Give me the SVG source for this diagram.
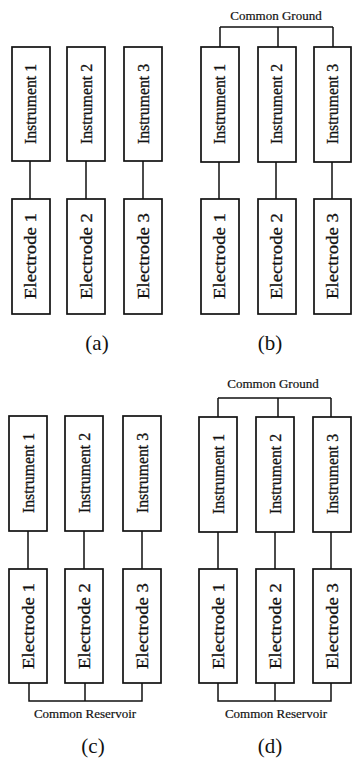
<svg xmlns="http://www.w3.org/2000/svg" width="352" height="767" viewBox="0 0 352 767">
<style>
.box{fill:#fff;stroke:#111;stroke-width:1.7}
.ln{fill:none;stroke:#111;stroke-width:1.5}
.vt{font-family:"Liberation Serif","Times New Roman",serif;font-size:17px;fill:#111;stroke:#111;stroke-width:0.3;text-anchor:middle;dominant-baseline:central}
.ht{font-family:"Liberation Serif","Times New Roman",serif;font-size:13px;fill:#111;stroke:#111;stroke-width:0.2;text-anchor:middle}
.cap{font-family:"Liberation Serif","Times New Roman",serif;font-size:21px;fill:#111;text-anchor:middle}
</style>
<rect width="352" height="767" fill="#fff"/>
<g id="connectors">
<path class="ln" d="M30,161V199M86,161V199M143,161V199"/>
<path class="ln" d="M220,27H333M220,27V47M278,27V47M333,27V47"/>
<path class="ln" d="M219,162V199M276,162V199M332,162V199"/>
<path class="ln" d="M28,531V569M84,531V569M142,531V569"/>
<path class="ln" d="M29,683V701H142V683M85,683V701"/>
<path class="ln" d="M218,398H331M218,398V417M278,398V417M331,398V417"/>
<path class="ln" d="M218,532V569M275,532V569M331,532V569"/>
<path class="ln" d="M218,683V701H331V683M275,683V701"/>
</g>
<g id="a-inst1"><rect class="box" x="12" y="47" width="38" height="114"/><text class="vt" transform="translate(30,104) rotate(-90)" textLength="80" lengthAdjust="spacingAndGlyphs">Instrument 1</text></g>
<g id="a-inst2"><rect class="box" x="67" y="47" width="38" height="114"/><text class="vt" transform="translate(86,104) rotate(-90)" textLength="80" lengthAdjust="spacingAndGlyphs">Instrument 2</text></g>
<g id="a-inst3"><rect class="box" x="124" y="47" width="38" height="114"/><text class="vt" transform="translate(143,104) rotate(-90)" textLength="80" lengthAdjust="spacingAndGlyphs">Instrument 3</text></g>
<g id="a-elec1"><rect class="box" x="12" y="199" width="38" height="115"/><text class="vt" transform="translate(30,256) rotate(-90)" textLength="86" lengthAdjust="spacingAndGlyphs">Electrode 1</text></g>
<g id="a-elec2"><rect class="box" x="67" y="199" width="38" height="115"/><text class="vt" transform="translate(86,256) rotate(-90)" textLength="86" lengthAdjust="spacingAndGlyphs">Electrode 2</text></g>
<g id="a-elec3"><rect class="box" x="124" y="199" width="38" height="115"/><text class="vt" transform="translate(143,256) rotate(-90)" textLength="86" lengthAdjust="spacingAndGlyphs">Electrode 3</text></g>
<text id="label-a" class="cap" x="97" y="350">(a)</text>
<text id="b-ground" class="ht" x="276" y="20">Common Ground</text>
<g id="b-inst1"><rect class="box" x="201" y="47" width="38" height="115"/><text class="vt" transform="translate(219,104) rotate(-90)" textLength="80" lengthAdjust="spacingAndGlyphs">Instrument 1</text></g>
<g id="b-inst2"><rect class="box" x="258" y="47" width="38" height="115"/><text class="vt" transform="translate(276,104) rotate(-90)" textLength="80" lengthAdjust="spacingAndGlyphs">Instrument 2</text></g>
<g id="b-inst3"><rect class="box" x="314" y="47" width="37" height="115"/><text class="vt" transform="translate(332,104) rotate(-90)" textLength="80" lengthAdjust="spacingAndGlyphs">Instrument 3</text></g>
<g id="b-elec1"><rect class="box" x="201" y="199" width="38" height="115"/><text class="vt" transform="translate(219,256) rotate(-90)" textLength="86" lengthAdjust="spacingAndGlyphs">Electrode 1</text></g>
<g id="b-elec2"><rect class="box" x="258" y="199" width="38" height="115"/><text class="vt" transform="translate(276,256) rotate(-90)" textLength="86" lengthAdjust="spacingAndGlyphs">Electrode 2</text></g>
<g id="b-elec3"><rect class="box" x="314" y="199" width="37" height="115"/><text class="vt" transform="translate(332,256) rotate(-90)" textLength="86" lengthAdjust="spacingAndGlyphs">Electrode 3</text></g>
<text id="label-b" class="cap" x="270" y="350">(b)</text>
<g id="c-inst1"><rect class="box" x="9" y="416" width="38" height="115"/><text class="vt" transform="translate(28,473) rotate(-90)" textLength="80" lengthAdjust="spacingAndGlyphs">Instrument 1</text></g>
<g id="c-inst2"><rect class="box" x="65" y="416" width="38" height="115"/><text class="vt" transform="translate(84,473) rotate(-90)" textLength="80" lengthAdjust="spacingAndGlyphs">Instrument 2</text></g>
<g id="c-inst3"><rect class="box" x="123" y="416" width="38" height="115"/><text class="vt" transform="translate(142,473) rotate(-90)" textLength="80" lengthAdjust="spacingAndGlyphs">Instrument 3</text></g>
<g id="c-elec1"><rect class="box" x="9" y="569" width="38" height="114"/><text class="vt" transform="translate(28,626) rotate(-90)" textLength="86" lengthAdjust="spacingAndGlyphs">Electrode 1</text></g>
<g id="c-elec2"><rect class="box" x="65" y="569" width="38" height="114"/><text class="vt" transform="translate(84,626) rotate(-90)" textLength="86" lengthAdjust="spacingAndGlyphs">Electrode 2</text></g>
<g id="c-elec3"><rect class="box" x="123" y="569" width="38" height="114"/><text class="vt" transform="translate(142,626) rotate(-90)" textLength="86" lengthAdjust="spacingAndGlyphs">Electrode 3</text></g>
<text id="c-reservoir" class="ht" x="85" y="718">Common Reservoir</text>
<text id="label-c" class="cap" x="93" y="753">(c)</text>
<text id="d-ground" class="ht" x="273" y="388">Common Ground</text>
<g id="d-inst1"><rect class="box" x="199" y="417" width="38" height="115"/><text class="vt" transform="translate(218,474) rotate(-90)" textLength="80" lengthAdjust="spacingAndGlyphs">Instrument 1</text></g>
<g id="d-inst2"><rect class="box" x="256" y="417" width="38" height="115"/><text class="vt" transform="translate(275,474) rotate(-90)" textLength="80" lengthAdjust="spacingAndGlyphs">Instrument 2</text></g>
<g id="d-inst3"><rect class="box" x="313" y="417" width="38" height="115"/><text class="vt" transform="translate(332,474) rotate(-90)" textLength="80" lengthAdjust="spacingAndGlyphs">Instrument 3</text></g>
<g id="d-elec1"><rect class="box" x="199" y="569" width="38" height="114"/><text class="vt" transform="translate(218,626) rotate(-90)" textLength="86" lengthAdjust="spacingAndGlyphs">Electrode 1</text></g>
<g id="d-elec2"><rect class="box" x="256" y="569" width="38" height="114"/><text class="vt" transform="translate(275,626) rotate(-90)" textLength="86" lengthAdjust="spacingAndGlyphs">Electrode 2</text></g>
<g id="d-elec3"><rect class="box" x="313" y="569" width="38" height="114"/><text class="vt" transform="translate(332,626) rotate(-90)" textLength="86" lengthAdjust="spacingAndGlyphs">Electrode 3</text></g>
<text id="d-reservoir" class="ht" x="276" y="718">Common Reservoir</text>
<text id="label-d" class="cap" x="270" y="753">(d)</text>
</svg>
